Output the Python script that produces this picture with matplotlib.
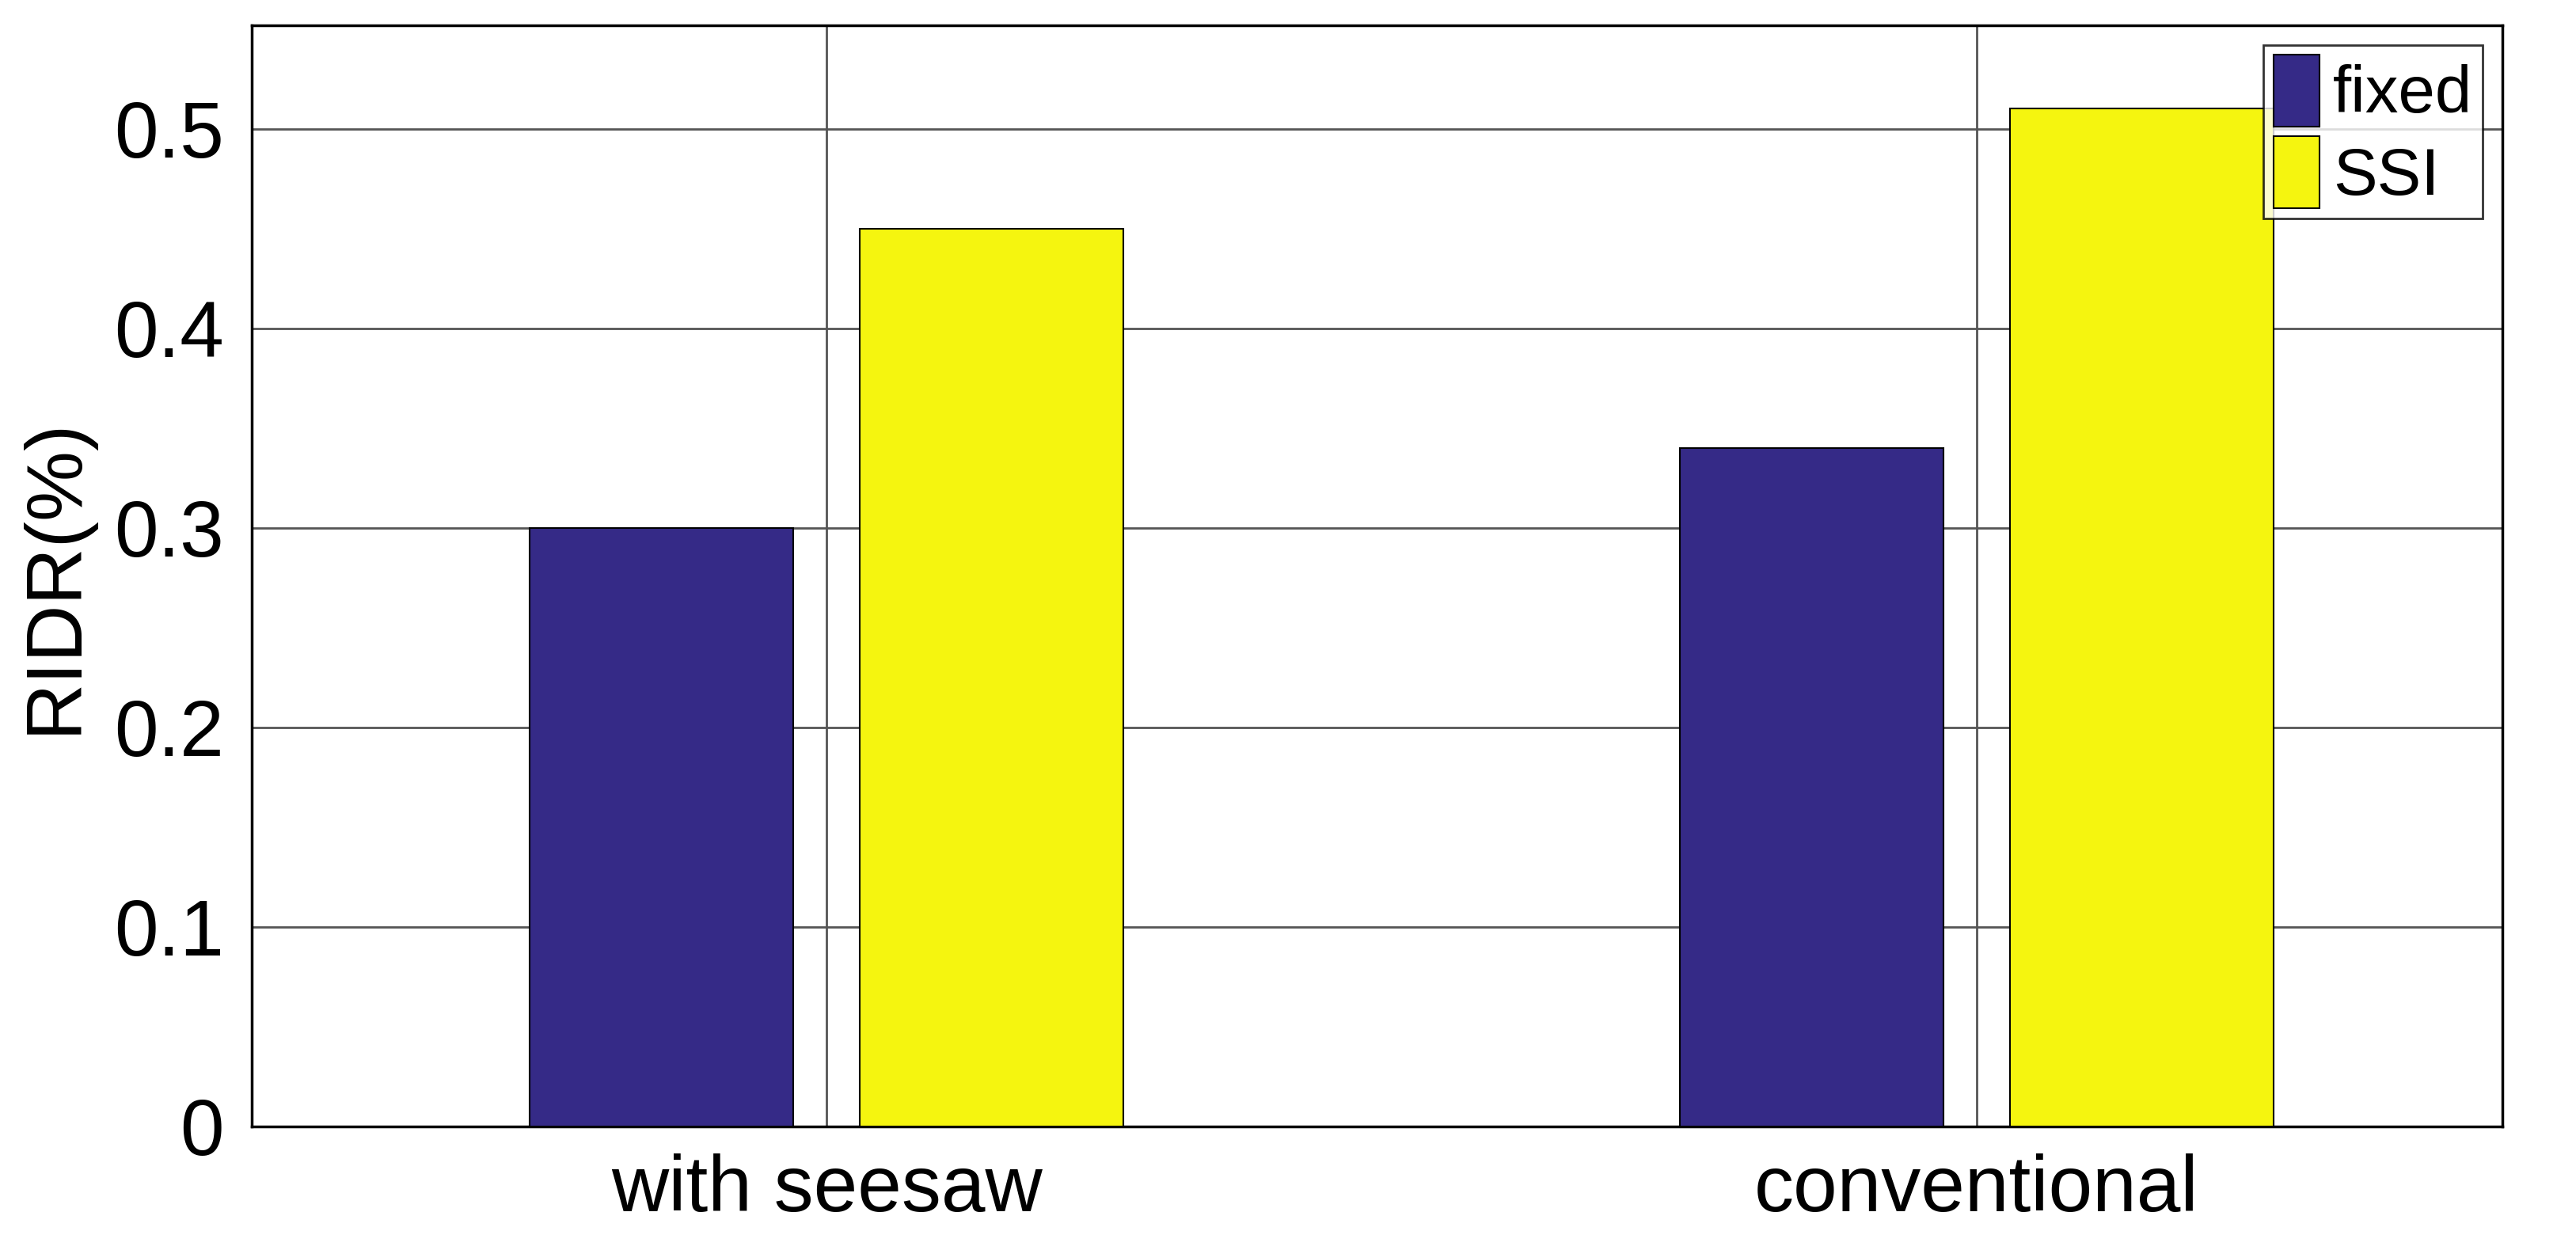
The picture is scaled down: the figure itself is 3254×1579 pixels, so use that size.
import matplotlib.pyplot as plt
import numpy as np

plt.rcParams['font.family'] = ['Liberation Sans', 'DejaVu Sans']

categories = ['with seesaw', 'conventional']
fixed = [0.30, 0.34]
ssi = [0.45, 0.51]

x = np.arange(1, len(categories) + 1)
w = 0.229

fig = plt.figure(figsize=(32.55, 15.79), dpi=100)
ax = fig.add_axes([0.0976, 0.099, 0.8734, 0.881])
ax.bar(x - 0.1435, fixed, w, color='#352a87', edgecolor='black', linewidth=1.5, label='fixed', zorder=3)
ax.bar(x + 0.1435, ssi, w, color='#f5f50f', edgecolor='black', linewidth=1.5, label='SSI', zorder=3)

ax.set_xlim(0.5, 2.457)
ax.set_ylim(0, 0.552)
ax.set_xticks(x)
ax.set_xticklabels(categories)
ax.set_yticks([0, 0.1, 0.2, 0.3, 0.4, 0.5])
ax.set_yticklabels(['0', '0.1', '0.2', '0.3', '0.4', '0.5'])
ax.tick_params(labelsize=72, length=0, pad=25)
ax.set_ylabel('RIDR(%)', fontsize=72, labelpad=20)
ax.grid(True, color='#555555', linewidth=2, zorder=0)
for s in ax.spines.values():
    s.set_linewidth(2.5)

ax.legend(loc='upper right', fontsize=60, frameon=True, fancybox=False, edgecolor='black',
          borderaxespad=0.3, handlelength=0.7, handleheight=1.3, handletextpad=0.2,
          borderpad=0.15, labelspacing=0.15).get_frame().set_linewidth(2)

fig.savefig('out.png')
